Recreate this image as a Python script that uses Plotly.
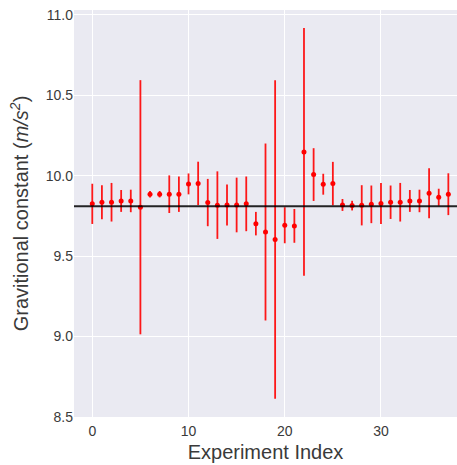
import plotly.graph_objects as go

experiment_index = list(range(38))
g_values = [9.825, 9.835, 9.835, 9.843, 9.843, 9.804, 9.885, 9.885, 9.885, 9.885,
            9.949, 9.952, 9.833, 9.817, 9.818, 9.818, 9.825, 9.702, 9.650, 9.603,
            9.692, 9.688, 10.148, 10.007, 9.947, 9.951, 9.818, 9.814, 9.816, 9.822,
            9.827, 9.835, 9.835, 9.843, 9.843, 9.891, 9.866, 9.885]
g_errors = [0.125, 0.105, 0.12, 0.068, 0.07, 0.79, 0.02, 0.02, 0.117, 0.11,
            0.065, 0.135, 0.147, 0.21, 0.128, 0.17, 0.17, 0.073, 0.55, 0.99,
            0.112, 0.105, 0.77, 0.164, 0.065, 0.135, 0.037, 0.03, 0.125, 0.117,
            0.127, 0.104, 0.12, 0.068, 0.07, 0.155, 0.053, 0.13]
G_REFERENCE = 9.81
x_ticks = [0, 10, 20, 30]
y_ticks = [8.5, 9.0, 9.5, 10.0, 10.5, 11.0]

fig = go.Figure()
fig.add_trace(go.Scatter(
    x=experiment_index, y=g_values, mode="markers",
    marker=dict(color="red", size=5),
    error_y=dict(type="data", array=g_errors, color="rgba(255,0,0,0.9)", thickness=1.8, width=0),
    showlegend=False,
))
fig.add_hline(y=G_REFERENCE, line=dict(color="rgba(0,0,0,0.85)", width=2))

font_color = "#3a3a3a"
fig.update_layout(
    width=457, height=465,
    margin=dict(l=74, r=0, t=10, b=48, autoexpand=False),
    paper_bgcolor="white", plot_bgcolor="#EAEAF2",
    font=dict(family="Liberation Sans, Arial, sans-serif", color=font_color, size=14),
    xaxis=dict(
        range=[-1.9, 37.9], tickvals=x_ticks, showgrid=True, gridcolor="white",
        gridwidth=1, zeroline=False, ticks="", showline=False, automargin=False,
        ticklabelstandoff=4, ticklabeloverflow="allow",
        title=dict(text="Experiment Index", font=dict(size=20), standoff=6),
    ),
    yaxis=dict(
        range=[8.5, 11.03], tickvals=y_ticks, tickformat=".1f", showgrid=True,
        gridcolor="white", gridwidth=1, zeroline=False, ticks="", showline=False,
        automargin=False, ticklabeloverflow="allow",
        title=dict(text="Gravitional constant (<i>m/s<sup>2</sup></i>)",
                   font=dict(size=20), standoff=11),
    ),
)

fig.write_html("out.html",
               config={"displayModeBar": False},
               post_script="document.body.style.margin='0';document.body.style.overflow='hidden';")
